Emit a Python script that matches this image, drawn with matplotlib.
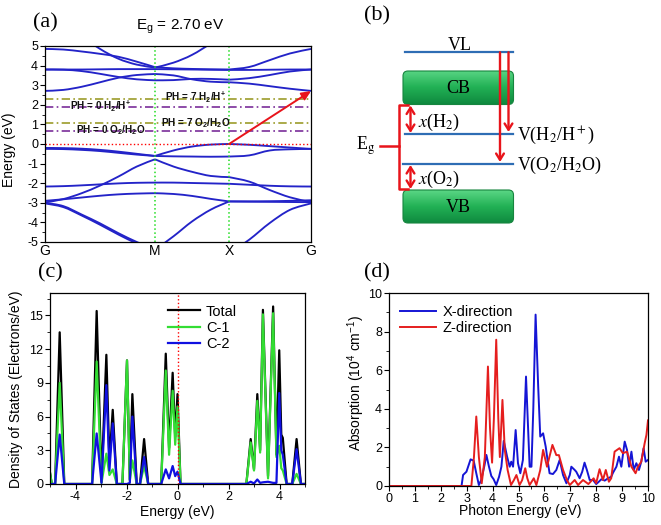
import numpy as np
import matplotlib
matplotlib.use('Agg')
import matplotlib.pyplot as plt
from matplotlib.path import Path
from matplotlib.patches import PathPatch, FancyBboxPatch
from matplotlib.ticker import MultipleLocator
from matplotlib.colors import LinearSegmentedColormap

plt.rcParams.update({
    'font.family': 'Liberation Sans',
    'axes.unicode_minus': False,
    'mathtext.fontset': 'custom',
    'mathtext.rm': 'Liberation Sans',
    'mathtext.it': 'Liberation Sans:italic',
    'mathtext.bf': 'Liberation Sans:bold',
    'axes.linewidth': 0.9,
    'xtick.direction': 'out',
    'ytick.direction': 'out',
})

# ---------------- (a) band structure data ----------------
K_LABELS = ['G', 'M', 'X', 'G']
K_NODES = [0.0, 0.4135, 0.692, 1.0]
K_PTS = [0.0, 0.069, 0.138, 0.207, 0.276, 0.345, 0.4135,
         0.483, 0.553, 0.623, 0.692, 0.768, 0.845, 0.921, 1.0]
BANDS = [
    [4.85, 4.82, 4.72, 4.60, 4.45, 4.20, 3.92, 3.86, 3.83, 3.81, 3.80, 3.93, 4.28, 4.62, 4.85],
    [6.40, 6.10, 5.50, 4.85, 4.35, 4.05, 3.90, 4.15, 4.55, 5.15, 6.00, 6.20, 6.40, 6.50, 6.55],
    [3.80, 3.80, 3.80, 3.81, 3.82, 3.82, 3.82, 3.81, 3.80, 3.79, 3.78, 3.78, 3.79, 3.80, 3.80],
    [3.80, 3.79, 3.72, 3.58, 3.42, 3.30, 3.25, 3.26, 3.32, 3.32, 3.28, 3.36, 3.52, 3.70, 3.80],
    [2.71, 2.76, 2.92, 3.15, 3.38, 3.52, 3.57, 3.50, 3.30, 3.18, 3.15, 3.08, 2.95, 2.82, 2.71],
    [-0.20, -0.21, -0.24, -0.30, -0.39, -0.50, -0.61, -0.33, -0.13, -0.03, 0.00, -0.04, -0.11, -0.18, -0.25],
    [-0.25, -0.26, -0.30, -0.36, -0.45, -0.54, -0.61, -0.63, -0.64, -0.65, -0.64, -0.58, -0.33, -0.27, -0.25],
    [-2.98, -2.81, -2.51, -2.12, -1.66, -1.15, -0.78, -1.15, -1.42, -1.63, -1.69, -1.92, -2.35, -2.72, -2.97],
    [-2.17, -2.15, -2.11, -2.06, -2.01, -1.98, -1.97, -1.97, -1.99, -2.01, -2.03, -2.08, -2.13, -2.16, -2.17],
    [-2.90, -2.82, -2.73, -2.64, -2.57, -2.53, -2.51, -2.55, -2.65, -2.80, -2.93, -2.93, -2.92, -2.90, -2.87],
    [-3.00, -3.17, -3.60, -4.05, -4.55, -5.00, -5.40, -4.71, -3.95, -3.35, -2.93, -2.94, -2.95, -2.96, -2.97],
    [-3.03, -3.22, -3.65, -4.12, -4.62, -5.08, -5.50, -5.80, -6.00, -5.90, -5.60, -4.88, -4.03, -3.36, -3.03],
]
GAP_ARROW = (0.692, 0.0, 1.0, 2.70)
REDOX_LEVELS = [2.31, 1.90, 1.08, 0.67]   # pH7 H2, pH0 H2, pH7 O2, pH0 O2
REDOX_LABELS = ['PH = 7 H$_\\mathbf{2}$/H$^\\mathbf{+}$', 'PH = 0 H$_\\mathbf{2}$/H$^\\mathbf{+}$',
                'PH = 7 O$_\\mathbf{2}$/H$_\\mathbf{2}$O', 'PH = 0 O$_\\mathbf{2}$/H$_\\mathbf{2}$O']
REDOX_LABEL_K = [0.564, 0.21, 0.567, 0.246]
REDOX_LABEL_E = [2.37, 1.90, 1.08, 0.71]

# ---------------- (c) DOS data ----------------
DOS_E = [-5.00, -4.93, -4.80, -4.62, -4.44, -3.35, -3.17, -2.98, -2.79, -2.67,
         -2.54, -2.38, -2.16, -1.98, -1.87, -1.77, -1.60, -1.47, -1.31, -1.15,
         -0.64, -0.46, -0.33, -0.19, -0.09, 0.00, 0.12, 2.70, 2.87, 3.00,
         3.13, 3.24, 3.35, 3.55, 3.75, 3.88, 3.99, 4.07, 4.13, 4.28,
         4.50, 4.67, 4.84, 5.00]
DOS_TOTAL = [1.0, 0, 0, 13.5, 0, 0, 15.4, 0.2, 11.5, 2.0,
             6.6, 0, 0, 11.0, 0.4, 8.0, 0, 0, 4.0, 0,
             0, 11.6, 3.2, 9.9, 4.2, 8.0, 0, 0, 4.0, 1.3,
             8.0, 3.0, 15.5, 0.7, 15.8, 2.6, 11.9, 4.4, 4.1, 0,
             0, 4.0, 0, 0]
DOS_C1 = [1.0, 0, 0, 9.0, 0, 0, 10.9, 0.1, 2.7, 0.8,
          1.3, 0, 0, 11.0, 0.3, 2.1, 0, 0, 1.6, 0,
          0, 10.1, 2.6, 8.3, 3.5, 6.9, 0, 0, 3.7, 1.2,
          7.4, 2.8, 15.1, 0.5, 15.2, 2.4, 3.4, 1.4, 1.2, 0,
          0, 0.9, 0, 0]
DOS_C2 = [0, 0, 0, 4.4, 0, 0, 4.5, 0.1, 8.8, 1.2,
          5.4, 0, 0, 0, 0.1, 6.0, 0, 0, 2.4, 0,
          0, 1.3, 0.5, 1.6, 0.7, 1.1, 0, 0, 0.2, 0.05,
          0.4, 0.1, 0.15, 0.2, 0.1, 0.1, 8.1, 3.0, 2.6, 0,
          0, 3.1, 0, 0]

# ---------------- (d) absorption data ----------------
ABS_E_X = [0.00, 2.80, 2.86, 2.99, 3.15, 3.27, 3.37, 3.47, 3.56, 3.69,
           3.76, 3.86, 3.95, 4.04, 4.14, 4.25, 4.34, 4.43, 4.56, 4.66,
           4.72, 4.79, 4.89, 4.98, 5.07, 5.17, 5.29, 5.43, 5.50, 5.57,
           5.66, 5.76, 5.84, 5.95, 6.05, 6.14, 6.20, 6.33, 6.46, 6.59,
           6.72, 6.85, 6.98, 7.04, 7.17, 7.23, 7.36, 7.46, 7.55, 7.64,
           7.75, 7.88, 8.00, 8.10, 8.20, 8.33, 8.46, 8.58, 8.65, 8.78,
           8.88, 8.97, 9.10, 9.19, 9.27, 9.36, 9.45, 9.55, 9.65, 9.74,
           9.83, 9.91, 10.0]
ABS_X = [0.00, 0.00, 0.57, 0.74, 1.38, 1.31, 0.66, 0.05, 0.31, 1.09,
         1.61, 1.00, 0.52, 0.35, 0.05, 0.48, 1.00, 2.34, 1.52, 1.00,
         1.26, 1.00, 2.90, 1.18, 0.66, 1.35, 5.67, 1.00, 1.00, 3.94,
         8.88, 5.16, 2.56, 2.73, 2.04, 1.18, 0.66, 0.62, 0.83, 1.35,
         0.57, 0.14, 0.57, 1.00, 0.83, 0.74, 0.40, 0.74, 1.21, 0.83,
         0.31, 0.31, 0.10, 0.22, 0.35, 0.28, 0.40, 0.48, 0.69, 1.00,
         1.52, 1.00, 2.30, 1.87, 1.00, 1.78, 0.83, 1.18, 0.83, 1.26,
         1.96, 1.26, 1.35]
ABS_E_Z = [0.00, 3.18, 3.28, 3.37, 3.47, 3.58, 3.70, 3.82, 3.90, 3.98,
           4.05, 4.14, 4.22, 4.28, 4.38, 4.47, 4.58, 4.71, 4.82, 4.92,
           5.04, 5.14, 5.26, 5.34, 5.43, 5.59, 5.69, 5.84, 5.95, 6.10,
           6.31, 6.46, 6.56, 6.72, 6.87, 6.98, 7.17, 7.30, 7.49, 7.70,
           7.90, 8.00, 8.13, 8.26, 8.37, 8.49, 8.58, 8.71, 8.90, 9.03,
           9.19, 9.36, 9.52, 9.61, 9.74, 9.87, 9.94, 10.0]
ABS_Z = [0.00, 0.00, 1.50, 3.60, 1.50, 0.14, 1.50, 6.19, 3.00, 1.21,
         3.50, 7.58, 3.50, 1.50, 4.46, 1.87, 0.83, 0.05, 0.30, 0.57,
         0.05, 0.30, 0.92, 0.40, 0.05, 0.40, 0.05, 0.83, 1.87, 1.00,
         2.13, 1.60, 1.60, 0.83, 0.31, 0.05, 0.31, 0.05, 0.31, 0.10,
         0.40, 0.15, 0.87, 0.31, 0.83, 0.22, 0.40, 1.78, 1.96, 1.70,
         1.78, 1.00, 0.66, 1.00, 1.26, 2.21, 2.65, 3.40]

W, H = 661, 525
fig = plt.figure(figsize=(W / 100, H / 100), dpi=100)


def px_axes(x0, y0, x1, y1, **kw):
    return fig.add_axes([x0 / W, 1 - y1 / H, (x1 - x0) / W, (y1 - y0) / H], **kw)


def smooth_path(xs, ys):
    pts = np.column_stack([xs, ys]).astype(float)
    verts = [pts[0]]
    codes = [Path.MOVETO]
    n = len(pts)
    for i in range(n - 1):
        p0 = pts[i - 1] if i > 0 else pts[i]
        p1 = pts[i]
        p2 = pts[i + 1]
        p3 = pts[i + 2] if i + 2 < n else pts[i + 1]
        verts += [p1 + (p2 - p0) / 6, p2 - (p3 - p1) / 6, p2]
        codes += [Path.CURVE4] * 3
    return Path(verts, codes)


RED = '#e8141b'
BAND_BLUE = '#2323c8'

# ---------------- panel (a) ----------------
axA = px_axes(45, 46, 311, 242)
segs = [(0, 6), (6, 10), (10, 14)]
for band in BANDS:
    for i0, i1 in segs:
        p = smooth_path(K_PTS[i0:i1 + 1], band[i0:i1 + 1])
        axA.add_patch(PathPatch(p, fill=False, edgecolor=BAND_BLUE, lw=1.35))
for kx in K_NODES[1:3]:
    axA.axvline(kx, color='#22dd22', ls=':', lw=1.1)
axA.axhline(0, color='red', ls=':', lw=1.0)
redox_colors = ['#9c9c2a', '#7a2e9a', '#9c9c2a', '#7a2e9a']
for lev, c in zip(REDOX_LEVELS, redox_colors):
    axA.axhline(lev, color=c, ls=(0, (5, 2, 1, 2)), lw=1.2)
for lab, kx, ey in zip(REDOX_LABELS, REDOX_LABEL_K, REDOX_LABEL_E):
    axA.text(kx, ey, lab, fontsize=7.2, fontweight='bold', ha='center', va='center', color='#111111')
axA.annotate('', xy=(GAP_ARROW[2], GAP_ARROW[3]), xytext=(GAP_ARROW[0], GAP_ARROW[1]),
             arrowprops=dict(arrowstyle='-|>,head_length=0.55,head_width=0.25', color=RED, lw=1.4,
                             shrinkA=0, shrinkB=0))
axA.set_xlim(0, 1)
axA.set_ylim(-5, 5)
axA.set_xticks(K_NODES)
axA.set_xticklabels(K_LABELS)
axA.tick_params(axis='x', length=0, labelsize=10, pad=1.5)
axA.yaxis.set_major_locator(MultipleLocator(1))
axA.yaxis.set_minor_locator(MultipleLocator(0.5))
axA.tick_params(axis='y', which='major', length=3.5, labelsize=9, pad=1.5)
axA.tick_params(axis='y', which='minor', length=2)

# ---------------- panel (c) ----------------
axC = px_axes(50, 293, 305, 484)
axC.plot(DOS_E, DOS_TOTAL, color='black', lw=1.6, label='Total')
axC.plot(DOS_E, DOS_C1, color='#33dd33', lw=1.6, label='C-1')
axC.plot(DOS_E, DOS_C2, color='#1010e0', lw=1.6, label='C-2')
axC.axvline(0, color='red', ls=':', lw=1.0)
axC.set_xlim(-5, 5)
axC.set_ylim(0, 17)
axC.xaxis.set_major_locator(MultipleLocator(2))
axC.xaxis.set_minor_locator(MultipleLocator(1))
axC.yaxis.set_major_locator(MultipleLocator(3))
axC.yaxis.set_minor_locator(MultipleLocator(1.5))
axC.tick_params(which='major', length=3.5, labelsize=9, pad=1.5)
axC.tick_params(which='minor', length=2)
axC.legend(loc='upper left', bbox_to_anchor=(0.44, 0.97), frameon=False, fontsize=10.5,
           handlelength=2.2, handletextpad=0.4, labelspacing=0.15, borderaxespad=0)

# ---------------- panel (d) ----------------
axD = px_axes(389, 293, 648, 486)
axD.plot(ABS_E_X, ABS_X, color='#1515d5', lw=1.4, label='X-direction')
axD.plot(ABS_E_Z, ABS_Z, color='#e51e1e', lw=1.4, label='Z-direction')
axD.set_xlim(0, 10)
axD.set_ylim(0, 10)
axD.xaxis.set_major_locator(MultipleLocator(1))
axD.xaxis.set_minor_locator(MultipleLocator(0.5))
axD.yaxis.set_major_locator(MultipleLocator(2))
axD.yaxis.set_minor_locator(MultipleLocator(1))
axD.tick_params(which='major', length=3.5, labelsize=9, pad=1.5)
axD.tick_params(which='minor', length=2)
axD.legend(loc='upper left', bbox_to_anchor=(0.02, 0.97), frameon=False, fontsize=10.5,
           handlelength=2.5, handletextpad=0.4, labelspacing=0.15, borderaxespad=0)

# ---------------- overlay: labels and panel (b) ----------------
ax0 = fig.add_axes([0, 0, 1, 1], zorder=5)
ax0.patch.set_visible(False)
ax0.axis('off')
SERIF = 'Liberation Serif'

for lab, x, y in [('(a)', 45, 23), ('(b)', 377, 16), ('(c)', 50, 273), ('(d)', 377, 273)]:
    ax0.text(x, y, lab, fontsize=16, family=SERIF, ha='center', va='center')

ax0.text(180, 27, 'E$_\\mathrm{g}$ = 2.70 eV', fontsize=11, ha='center', va='center')
ax0.text(9, 150, 'Energy (eV)', fontsize=10, rotation=90, ha='center', va='center')
ax0.text(16, 389, 'Density of States (Electrons/eV)', fontsize=10, rotation=90, ha='center', va='center')
ax0.text(177.5, 512, 'Energy (eV)', fontsize=10, ha='center', va='center')
ax0.text(356.5, 383, 'Absorption (10$^4$ cm$^{-1}$)', fontsize=10, rotation=90, ha='center', va='center')
ax0.text(520, 511, 'Photon Energy (eV)', fontsize=10, ha='center', va='center')


def green_box(x0, y0, x1, y1, label):
    patch = FancyBboxPatch((x0, y0), x1 - x0, y1 - y0, boxstyle='round,pad=0,rounding_size=5',
                           facecolor='none', edgecolor='#17853f', lw=0.8, zorder=2)
    ax0.add_patch(patch)
    grad = np.linspace(0, 1, 60)[:, None]
    cmap = LinearSegmentedColormap.from_list('g', ['#5ad685', '#22b155', '#0f8a3f'])
    im = ax0.imshow(grad, cmap=cmap, extent=(x0, x1, y1, y0), origin='upper', aspect='auto',
                    interpolation='bilinear', zorder=1)
    im.set_clip_path(patch)
    ax0.text((x0 + x1) / 2, (y0 + y1) / 2 + 0.5, label, fontsize=13, family=SERIF,
             ha='center', va='center', zorder=3)


green_box(403, 71, 513.5, 104.5, 'CB')
green_box(403, 190, 513.5, 223, 'VB')

LINE_BLUE = '#2e6db4'
ax0.plot([405, 513], [52.3, 52.3], color=LINE_BLUE, lw=1.6)
ax0.plot([405, 513], [134, 134], color=LINE_BLUE, lw=1.6)
ax0.plot([403, 513], [163.7, 163.7], color=LINE_BLUE, lw=1.6)
ax0.text(460, 45, 'VL', fontsize=13, family=SERIF, ha='center', va='center')

arr = dict(arrowstyle='->,head_length=0.45,head_width=0.28', color=RED, lw=1.7, shrinkA=0, shrinkB=0)
ax0.annotate('', xy=(500, 162), xytext=(500, 52.3), arrowprops=arr)
ax0.annotate('', xy=(508.5, 132), xytext=(508.5, 52.3), arrowprops=arr)
darr = dict(arrowstyle='<->,head_length=0.45,head_width=0.28', color=RED, lw=1.7, shrinkA=0, shrinkB=0)
ax0.annotate('', xy=(410.5, 133), xytext=(410.5, 105.5), arrowprops=darr)
ax0.annotate('', xy=(410.5, 189), xytext=(410.5, 165), arrowprops=darr)

ax0.plot([408, 398.5, 398.5, 408], [104.5, 104.5, 189, 189], color=RED, lw=1.8)
ax0.plot([380, 398.5], [146, 146], color=RED, lw=1.8)
ax0.text(366, 146, 'E$_\\mathrm{g}$', fontsize=13, family=SERIF, math_fontfamily='stix',
         ha='center', va='center')

ax0.text(418, 122, '$x$(H$_2$)', fontsize=13, family=SERIF, math_fontfamily='stix', ha='left', va='center')
ax0.text(418, 179.5, '$x$(O$_2$)', fontsize=13, family=SERIF, math_fontfamily='stix', ha='left', va='center')
ax0.text(517, 135.5, 'V(H$_2$/H$^+$)', fontsize=13, family=SERIF, math_fontfamily='stix', ha='left', va='center')
ax0.text(517, 165, 'V(O$_2$/H$_2$O)', fontsize=13, family=SERIF, math_fontfamily='stix', ha='left', va='center')

ax0.set_xlim(0, W)
ax0.set_ylim(H, 0)

fig.savefig('out.png', dpi=100)
